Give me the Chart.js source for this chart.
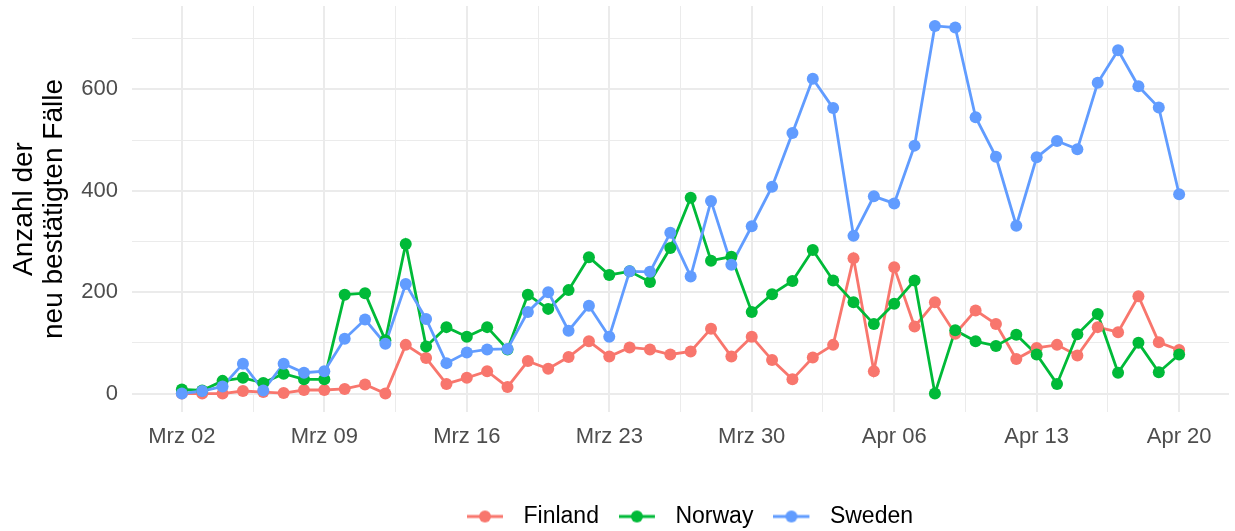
<!DOCTYPE html>
<html lang="de">
<head>
    <meta charset="UTF-8">
    <title>Neu bestätigte Fälle - Finland, Norway, Sweden</title>
    <script src="https://cdn.jsdelivr.net/npm/chart.js"></script>
    <style>
        body {
            margin: 0;
            background: #fff;
            font-family: 'Liberation Sans', Arial, sans-serif;
        }
        #wrap {
            width: 1235px;
            height: 531px;
        }
    </style>
</head>
<body>
    <div id="wrap"><canvas id="casesChart" width="1235" height="531"></canvas></div>

    <script>
        // one entry per day, 2020-03-02 .. 2020-04-20
        const dates = [
            '2020-03-02', '2020-03-03', '2020-03-04', '2020-03-05', '2020-03-06', '2020-03-07', '2020-03-08',
            '2020-03-09', '2020-03-10', '2020-03-11', '2020-03-12', '2020-03-13', '2020-03-14', '2020-03-15',
            '2020-03-16', '2020-03-17', '2020-03-18', '2020-03-19', '2020-03-20', '2020-03-21', '2020-03-22',
            '2020-03-23', '2020-03-24', '2020-03-25', '2020-03-26', '2020-03-27', '2020-03-28', '2020-03-29',
            '2020-03-30', '2020-03-31', '2020-04-01', '2020-04-02', '2020-04-03', '2020-04-04', '2020-04-05',
            '2020-04-06', '2020-04-07', '2020-04-08', '2020-04-09', '2020-04-10', '2020-04-11', '2020-04-12',
            '2020-04-13', '2020-04-14', '2020-04-15', '2020-04-16', '2020-04-17', '2020-04-18', '2020-04-19',
            '2020-04-20'
        ];

        const finland = [
            0, 0, 0, 5, 3, 1, 7, 7, 9, 18, 0, 96, 70, 19, 31, 44, 13, 64, 49, 72, 103, 73, 91, 87, 77,
            83, 128, 73, 112, 66, 28, 71, 96, 267, 44, 249, 132, 180, 118, 164, 137, 68, 90, 96, 75, 131, 121, 192, 101, 86
        ];
        const norway = [
            8, 6, 25, 31, 21, 39, 28, 28, 195, 198, 105, 295, 93, 131, 112, 131, 87, 195, 167, 204, 269, 234, 241, 220, 287,
            386, 262, 270, 161, 196, 222, 283, 223, 180, 137, 177, 223, 0, 125, 103, 94, 116, 77, 19, 117, 157, 41, 100, 42, 77
        ];
        const sweden = [
            0, 5, 14, 59, 6, 59, 41, 44, 108, 146, 98, 216, 147, 60, 81, 87, 88, 161, 200, 124, 173, 112, 241, 240, 317,
            231, 380, 254, 330, 408, 514, 621, 563, 311, 389, 375, 489, 725, 722, 545, 467, 331, 466, 498, 482, 613, 677, 606, 564, 393
        ];

        const countries = ['Finland', 'Norway', 'Sweden'];
        const colors = ['#F8766D', '#00BA38', '#619CFF'];

        const xTickDays = [0, 7, 14, 21, 28, 35, 42, 49];
        const xTickLabels = ['Mrz 02', 'Mrz 09', 'Mrz 16', 'Mrz 23', 'Mrz 30', 'Apr 06', 'Apr 13', 'Apr 20'];
        const yTickValues = [0, 200, 400, 600];
        const yMinorValues = [100, 300, 500, 700];

        const series = [finland, norway, sweden];

        // gridlines: major ticks plus the minor ones half way between
        const xGrid = [];
        xTickDays.forEach((d, i) => {
            xGrid.push(d);
            if (i < xTickDays.length - 1) xGrid.push((d + xTickDays[i + 1]) / 2);
        });
        const yGrid = yTickValues.concat(yMinorValues).sort((a, b) => a - b);

        const toPoints = vals => vals.map((v, i) => ({ x: i, y: v }));

        // lines first, then all points on top (like geom_line + geom_point)
        const lineSets = series.map((vals, i) => ({
            label: countries[i],
            data: toPoints(vals),
            borderColor: colors[i],
            backgroundColor: colors[i],
            borderWidth: 2.8,
            pointRadius: 0,
            pointHoverRadius: 0,
            tension: 0,
            order: 6 - i
        }));
        const pointSets = series.map((vals, i) => ({
            label: countries[i] + ' (Punkte)',
            data: toPoints(vals),
            showLine: false,
            pointRadius: 6,
            pointBackgroundColor: colors[i],
            pointBorderColor: colors[i],
            pointBorderWidth: 0,
            order: 3 - i
        }));

        function legendIcon(color) {
            const c = document.createElement('canvas');
            c.width = 45;
            c.height = 16;
            const g = c.getContext('2d');
            g.strokeStyle = color;
            g.lineWidth = 2.8;
            g.beginPath();
            g.moveTo(0, 8);
            g.lineTo(36, 8);
            g.stroke();
            g.fillStyle = color;
            g.beginPath();
            g.arc(18, 8, 6, 0, Math.PI * 2);
            g.fill();
            return c;
        }

        // ggplot puts the legend under the panel, a bit right of the canvas centre
        const legendShift = {
            id: 'legendShift',
            afterLayout(chart) {
                const l = chart.legend;
                const dx = 690 - (l.left + l.right) / 2;
                l.left += dx;
                l.right += dx;
                l.top += 7;
                l.bottom += 7;
            }
        };

        Chart.defaults.font.family = "'Liberation Sans', Arial, sans-serif";

        new Chart(document.getElementById('casesChart'), {
            type: 'line',
            data: { datasets: lineSets.concat(pointSets) },
            plugins: [legendShift],
            options: {
                responsive: false,
                animation: false,
                layout: { padding: { top: 5, right: 4, left: 0, bottom: 0 } },
                scales: {
                    x: {
                        type: 'linear',
                        min: -2.45,
                        max: 51.45,
                        afterBuildTicks: s => { s.ticks = xGrid.map(v => ({ value: v })); },
                        afterFit: s => {
                            s.height = 66;
                            s.paddingLeft = 0;
                            s.paddingRight = 0;
                        },
                        border: { display: false },
                        grid: {
                            color: '#EBEBEB',
                            drawTicks: false,
                            lineWidth: c => (xTickDays.includes(c.tick.value) ? 2 : 1)
                        },
                        ticks: {
                            autoSkip: false,
                            maxRotation: 0,
                            padding: 12,
                            color: '#4D4D4D',
                            font: { size: 22 },
                            callback: v => {
                                const k = xTickDays.indexOf(v);
                                return k >= 0 ? xTickLabels[k] : '';
                            }
                        }
                    },
                    y: {
                        min: -36.4,
                        max: 764.4,
                        afterBuildTicks: s => { s.ticks = yGrid.map(v => ({ value: v })); },
                        afterFit: s => {
                            s.width = 132;
                            s.paddingTop = 0;
                            s.paddingBottom = 0;
                        },
                        border: { display: false },
                        grid: {
                            color: '#EBEBEB',
                            drawTicks: false,
                            lineWidth: c => (yTickValues.includes(c.tick.value) ? 2 : 1)
                        },
                        ticks: {
                            autoSkip: false,
                            padding: 14,
                            color: '#4D4D4D',
                            font: { size: 22 },
                            callback: v => (yTickValues.includes(v) ? String(v) : '')
                        },
                        title: {
                            display: true,
                            text: ['Anzahl der', 'neu bestätigten Fälle'],
                            color: '#000',
                            font: { size: 28, lineHeight: 1.05 },
                            padding: { top: 10, bottom: 0 }
                        }
                    }
                },
                plugins: {
                    tooltip: { enabled: false },
                    legend: {
                        position: 'bottom',
                        labels: {
                            usePointStyle: true,
                            pointStyleWidth: 45,
                            boxHeight: 16,
                            padding: 20,
                            color: '#000',
                            font: { size: 23 },
                            generateLabels: () => countries.map((name, i) => ({
                                text: name,
                                pointStyle: legendIcon(colors[i]),
                                fillStyle: colors[i],
                                strokeStyle: colors[i],
                                lineWidth: 0,
                                fontColor: '#000',
                                hidden: false,
                                datasetIndex: i
                            }))
                        }
                    }
                }
            }
        });
    </script>
</body>
</html>
